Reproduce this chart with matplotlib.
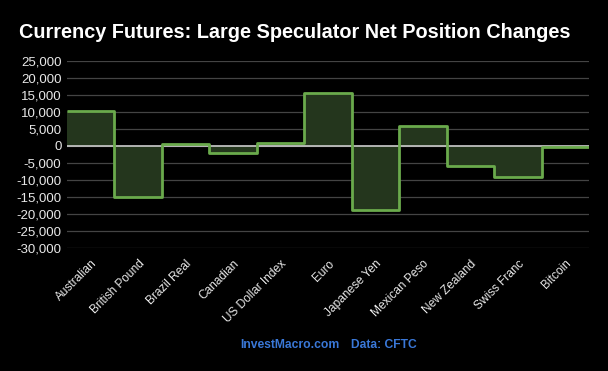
import numpy as np
import matplotlib.pyplot as plt
from matplotlib.ticker import FuncFormatter

currencies = ["Australian", "British Pound", "Brazil Real", "Canadian", "US Dollar Index",
              "Euro", "Japanese Yen", "Mexican Peso", "New Zealand", "Swiss Franc", "Bitcoin"]
net_change = [10300, -15000, 600, -2100, 800, 15700, -18700, 5900, -5900, -9200, -200]

plt.rcParams['font.family'] = ['Liberation Sans', 'DejaVu Sans']

fig = plt.figure(figsize=(6.08, 3.71), dpi=100, facecolor="black")
ax = fig.add_axes([67 / 608, 1 - 248 / 371, (589 - 67) / 608, (248 - 61) / 371])
ax.set_facecolor("black")

edges = np.arange(len(currencies) + 1)
ax.stairs(net_change, edges, baseline=0, fill=True, color="#24361d", zorder=2)
ax.axhline(0, color="#cccccc", lw=1.2, zorder=3)
ax.stairs(net_change, edges, baseline=None, color="#6aaa4c", lw=2, zorder=4,
          joinstyle="round")

ax.set_xlim(0, len(currencies))
ax.set_ylim(-30000, 25000)
ax.set_yticks(np.arange(-30000, 25001, 5000))
ax.yaxis.set_major_formatter(FuncFormatter(lambda v, p: f"{int(v):,}"))
ax.grid(axis="y", color="#444444", lw=0.9, zorder=1)
ax.set_xticks(edges[:-1] + 0.5)
ax.set_xticklabels(currencies, rotation=45, ha="right", rotation_mode="anchor")

for s in ax.spines.values():
    s.set_visible(False)
ax.tick_params(colors="#e8e8e8", labelsize=9.5, length=0, pad=4)
ax.tick_params(axis="x", labelsize=8.6, pad=7)

fig.text(19 / 608, 1 - 32 / 371, "Currency Futures: Large Speculator Net Position Changes",
         color="white", fontsize=14.3, fontweight="bold", va="center", ha="left")
fig.text(289.5 / 608, 1 - 345 / 371, "InvestMacro.com", color="#3a78d8", fontsize=8.7,
         fontweight="bold", ha="center", va="center")
fig.text(383.5 / 608, 1 - 345 / 371, "Data: CFTC", color="#3a78d8", fontsize=8.7,
         fontweight="bold", ha="center", va="center")

fig.savefig("out.png", dpi=100, facecolor="black")
